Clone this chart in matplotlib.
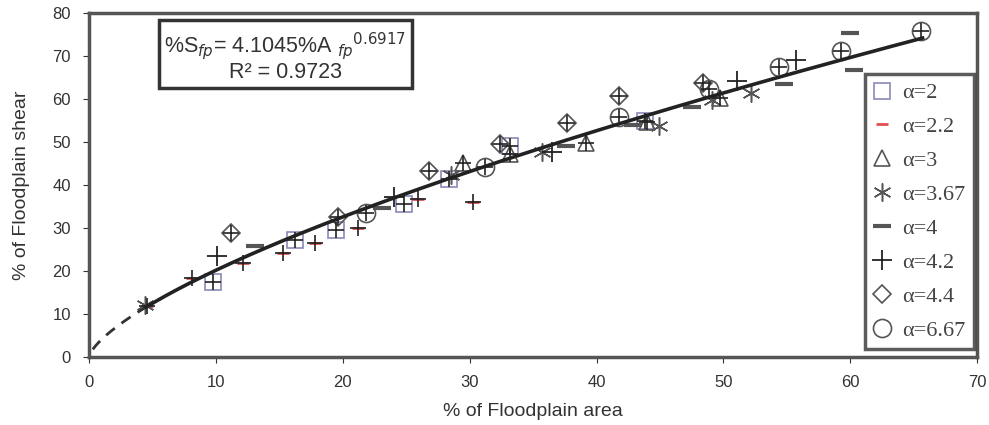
import numpy as np
import matplotlib
matplotlib.use('Agg')
import matplotlib.pyplot as plt

plt.rcParams['font.family'] = ['Liberation Sans', 'DejaVu Sans']

# data (% floodplain area, % floodplain shear)
a2_x = [9.8, 16.2, 19.5, 24.8, 28.4, 33.2, 43.8]
a2_y = [17.4, 27.2, 29.5, 35.6, 41.4, 49.1, 54.8]
a22_x = [4.6, 8.1, 12.1, 15.3, 17.8, 21.2, 25.9, 30.3]
a22_y = [11.9, 18.4, 21.9, 24.2, 26.5, 30.0, 36.7, 36.0]
a3_x = [29.5, 33.2, 39.2, 44.0, 49.7]
a3_y = [45.1, 47.2, 49.8, 54.7, 60.2]
a367_x = [4.4, 28.5, 35.7, 44.9, 49.1, 52.2]
a367_y = [12.0, 42.3, 47.7, 53.7, 59.8, 61.4]
a4_x = [13.1, 23.1, 37.6, 42.9, 47.5, 54.8, 60.0, 60.3]
a4_y = [25.8, 34.7, 49.1, 54.0, 58.1, 63.5, 75.3, 66.7]
a42_x = [10.1, 24.0, 36.5, 51.1, 55.7]
a42_y = [23.5, 37.2, 47.6, 64.2, 69.1]
a44_x = [11.2, 19.6, 26.8, 32.4, 37.7, 41.8, 48.4]
a44_y = [28.8, 32.6, 43.3, 49.5, 54.4, 60.7, 63.7]
a667_x = [21.8, 31.2, 41.8, 48.9, 54.4, 59.3, 65.6]
a667_y = [33.5, 44.2, 55.8, 62.3, 67.4, 71.2, 75.8]

coef = 4.1045
expo = 0.6917

fig = plt.figure(figsize=(9.89, 4.25), dpi=100)
ax = fig.add_axes([0.090, 0.160, 0.898, 0.809])

# fitted power curve
xd = np.linspace(0.3, 4.5, 20)
ax.plot(xd, coef * xd**expo, color='#333333', lw=2, ls=(0, (4, 3)), zorder=3)
xs = np.linspace(4.5, 65.7, 200)
ax.plot(xs, coef * xs**expo, color='#222222', lw=2.6, zorder=3)

gray = '#555555'
ax.plot(a2_x, a2_y, 's', ms=11, mfc='none', mec='#8a8ab8', mew=1.2, ls='none', label='α=2')
ax.plot(a22_x, a22_y, '_', ms=9, mec='#e05050', mew=2, ls='none', label='α=2.2')
ax.plot(a3_x, a3_y, '^', ms=11, mfc='none', mec=gray, mew=1.2, ls='none', label='α=3')
ax.plot(a367_x, a367_y, marker=(6, 2, 0), ms=13, mec=gray, mew=1.1, ls='none', label='α=3.67')
ax.plot(a4_x, a4_y, '_', ms=13, mec=gray, mew=3, ls='none', label='α=4')
ax.plot(a42_x, a42_y, '+', ms=14, mec='#222222', mew=1.3, ls='none', label='α=4.2')
ax.plot(a44_x, a44_y, 'D', ms=9, mfc='none', mec=gray, mew=1.2, ls='none', label='α=4.4')
ax.plot(a667_x, a667_y, 'o', ms=13, mfc='none', mec=gray, mew=1.2, ls='none', label='α=6.67')

# crosses drawn over every data point
allx = a2_x + a22_x + a3_x + a44_x + a667_x
ally = a2_y + a22_y + a3_y + a44_y + a667_y
ax.plot(allx, ally, '+', ms=11, mec='#222222', mew=1.2, ls='none')

ax.set_xlim(0, 70)
ax.set_ylim(0, 80)
ax.set_xticks(range(0, 71, 10))
ax.set_yticks(range(0, 81, 10))
ax.tick_params(direction='out', length=4, labelsize=12, colors='#333333', pad=9)
for s in ax.spines.values():
    s.set_linewidth(2.5)
    s.set_color('#555555')

ax.set_xlabel('% of Floodplain area', fontsize=14, color='#333333', labelpad=9)
ax.set_ylabel('% of Floodplain shear', fontsize=14, color='#333333', labelpad=16)

ax.text(0.221, 0.875, '%S$_{fp}$= 4.1045%A $_{fp}$$^{0.6917}$\nR² = 0.9723',
        transform=ax.transAxes, ha='center', va='center', fontsize=15.5,
        linespacing=1.0, color='#333333',
        bbox=dict(boxstyle='square,pad=0.25', fc='white', ec='#333333', lw=2.5))

leg = ax.legend(loc='lower right', bbox_to_anchor=(0.997, 0.022), fancybox=False,
                prop={'family': 'Liberation Serif', 'size': 16}, labelspacing=0.6,
                handlelength=0.8, handletextpad=0.5, borderpad=0.4, borderaxespad=0)
leg.get_frame().set_edgecolor('#333333')
leg.get_frame().set_linewidth(2.5)
for t in leg.get_texts():
    t.set_color('#444444')

fig.savefig('out.png', dpi=100)
